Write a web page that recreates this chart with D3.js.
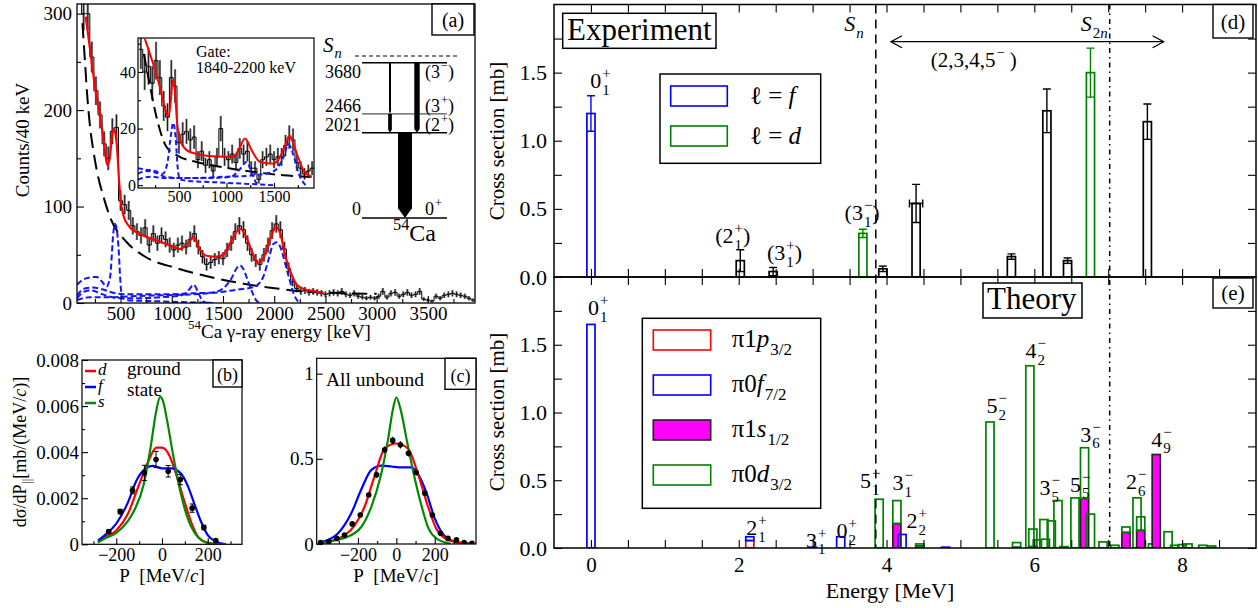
<!DOCTYPE html>
<html><head><meta charset="utf-8">
<script src="https://cdn.jsdelivr.net/npm/d3@7"></script>
<style>
body{margin:0;background:#fff;}
svg{display:block;}
text{font-family:'Liberation Serif','Times New Roman',serif;}
</style></head><body>
<svg id="chart" width="1258" height="608"></svg>
<script>
// ---------------- DATA ----------------
// (a) 54Ca gamma spectrum, 40 keV bins starting at 80 keV
const histStart = 80, histWidth = 40;
const histCounts = [330,300,300,255,220,195,165,150,178,182,106,102,96,80,74,70,78,60,72,62,70,66,60,55,60,62,58,66,72,58,48,40,42,45,47,46,55,62,74,80,76,62,50,44,40,50,60,75,82,76,56,36,22,15,12,13,11,12,11,10,9,10,11,10,12,9,8,10,7,6,5,6,5,7,12,6,10,11,7,9,11,8,9,12,4,3,2,7,5,8,9,10,9,8,7,5,3];
const fitTotal = [[160,297],[200,265],[250,225],[300,194],[340,165],[370,143],[395,150],[415,172],[432,180],[450,176],[470,155],[485,128],[500,108],[530,90],[580,80],[700,71],[850,65],[1000,59],[1080,56],[1150,61],[1215,68],[1270,56],[1340,49],[1440,48],[1500,50],[1560,60],[1620,72],[1670,77],[1720,70],[1780,54],[1845,41],[1900,48],[1960,66],[2015,79],[2060,72],[2110,48],[2160,32],[2220,19],[2300,14],[2400,12],[2480,10.5]];
const fitBackground = [[128,290],[150,255],[175,215],[203,182],[235,158],[269,137],[334,110],[398,89],[561,63],[725,49],[1050,36],[1375,27],[1700,20],[2026,15],[2352,11.5],[3000,9.5]];
const comp445 = [[75,19],[130,24],[200,26.5],[266,27],[320,22],[363,17],[398,27],[432,75],[447,82],[480,58],[496,27],[513,6],[560,3],[800,2],[1100,1],[1400,0]];
const comp1214 = [[75,5],[150,12],[220,13],[300,10],[380,7],[500,5],[700,5],[900,6],[1100,8],[1170,14],[1214,19],[1250,13],[1290,4],[1330,0.5],[1400,0]];
const comp1659 = [[75,8],[150,15],[230,16],[330,14],[450,10],[600,9],[900,9],[1200,10],[1400,11],[1500,15],[1580,25],[1640,37],[1668,39],[1700,35],[1740,24],[1790,10],[1830,2],[1870,0]];
const comp2021 = [[75,3],[200,6],[400,6],[600,7],[900,8],[1200,9],[1450,11],[1650,14],[1780,16],[1850,20],[1893,27],[1950,47],[1990,61],[2026,63],[2060,58],[2107,41],[2150,24],[2189,10],[2230,2],[2260,0]];
// inset (gate 1840-2200 keV)
const insetCounts = [48,40,42,36,44,38,28,24,38,35,15,18,19,16,17,9,12,7,9,5,10,20,10,9,11,8,13,11,12,6,6,2,9,10,11,9,10,10,14,17,16,8,6,4,5,6];
const insetFit = [[142,51.7],[229,42.9],[300,34.7],[370,25.3],[390,24],[415,30],[434,37],[458,33.5],[482,21.8],[528,14.7],[616,11.7],[862,10.2],[1072,10],[1125,12.3],[1195,16.5],[1265,12.3],[1353,8.2],[1493,7.6],[1581,11.2],[1630,15.3],[1665,17.5],[1700,15],[1739,11.2],[1809,5.3],[1897,2.9]];
const insetBackground = [[132,46.4],[195,35.3],[265,24],[370,13.5],[510,10],[686,8.2],[932,6.5],[1282,4.7],[1598,3.5],[1897,2.9]];
const insetComp445 = [[70,6],[150,5.5],[250,5],[330,4],[380,8],[410,16],[440,22],[465,17],[485,7],[510,2],[600,1.5],[900,1],[1200,0.5],[1500,0]];
const insetComp1214 = [[70,4],[150,5],[250,4.5],[350,3],[500,2.5],[800,2.5],[1050,3],[1150,6],[1210,8.2],[1260,5],[1310,1],[1350,0]];
const insetComp1659 = [[70,2],[200,3],[350,2.5],[600,2.5],[1000,3],[1300,3.5],[1500,5],[1600,10],[1650,14.5],[1700,11],[1760,4],[1830,0]];
// level scheme (keV)
const levelEnergy = [3680, 2466, 2021, 0];
const levelLabel = ["3680", "2466", "2021", "0"];
const levelJpi = [["(3","−",")"], ["(3","+",")"], ["(2","+",")"], ["0","+",""]];
const sepEnergyN = 3840;
const transFrom = [3680, 2466, 3680, 2021];
const transTo = [2466, 2021, 2021, 0];
const transIntensity = [1, 2, 3, 8];
// (b) ground state momentum distribution
const bP = [-233,-183,-129,-77,-26,27,80,132,183,235];
const bV = [0.00055,0.00142,0.00234,0.0031,0.00368,0.00317,0.00281,0.00157,0.00073,0.00016];
const bErr = [0.00007,0.0001,0.00015,0.00033,0.00035,0.00025,0.00022,0.00018,0.0001,0.00006];
const bCurveD = [[-280,0.00008],[-250,0.0003],[-200,0.0006],[-150,0.0013],[-100,0.0026],[-60,0.0036],[-25,0.0042],[0,0.0042],[30,0.0039],[60,0.0031],[100,0.0018],[130,0.0009],[160,0.0003],[200,0.00006],[250,0],[280,0]];
const bCurveF = [[-280,0.00016],[-250,0.0004],[-200,0.0009],[-150,0.0018],[-110,0.0028],[-70,0.0033],[-40,0.0034],[0,0.0033],[40,0.0033],[80,0.0031],[110,0.0026],[140,0.0018],[170,0.0010],[200,0.0004],[240,0.0001],[280,0]];
const bCurveS = [[-280,0.00008],[-250,0.00025],[-200,0.0005],[-150,0.001],[-120,0.0015],[-80,0.0026],[-50,0.0042],[-25,0.0058],[-8,0.0064],[5,0.0062],[20,0.0055],[50,0.0038],[80,0.0023],[110,0.0012],[150,0.0004],[190,0.0001],[250,0],[280,0]];
// (c) all unbound
const cP = [-395,-352,-310,-270,-230,-188,-144,-103,-61,-19,21,63,104,148,188,230,269,313,353,394];
const cV = [0.008,0.014,0.033,0.053,0.118,0.17,0.288,0.406,0.553,0.608,0.582,0.533,0.42,0.298,0.17,0.063,0.033,0.024,0.008,0.004];
const cErr = [0.005,0.006,0.008,0.01,0.012,0.014,0.016,0.018,0.02,0.022,0.022,0.02,0.018,0.016,0.014,0.012,0.008,0.006,0.005,0.004];
const cCurveD = [[-395,0.005],[-330,0.02],[-270,0.05],[-217,0.11],[-165,0.22],[-113,0.40],[-61,0.56],[0,0.59],[61,0.56],[113,0.41],[165,0.22],[208,0.09],[252,0.035],[321,0.01],[395,0.003]];
const cCurveF = [[-395,0.01],[-306,0.06],[-235,0.18],[-183,0.32],[-130,0.435],[-78,0.46],[-26,0.455],[26,0.45],[78,0.45],[113,0.41],[157,0.30],[200,0.15],[235,0.07],[287,0.02],[339,0.005],[395,0.002]];
const cCurveS = [[-395,0.004],[-330,0.02],[-270,0.035],[-183,0.10],[-130,0.22],[-78,0.415],[-44,0.61],[-18,0.79],[0,0.86],[22,0.79],[56,0.60],[91,0.41],[125,0.25],[168,0.09],[212,0.03],[282,0.002]];
// (d) experiment
const expE = [0, 2.021, 2.466, 3.68, 3.95, 4.40, 5.69, 6.17, 6.45, 6.76, 7.53];
const expV = [1.20, 0.12, 0.04, 0.32, 0.06, 0.54, 0.15, 1.22, 0.12, 1.50, 1.14];
const expErr = [0.13, 0.08, 0.03, 0.03, 0.02, 0.14, 0.02, 0.16, 0.02, 0.18, 0.13];
const expEErr = [0, 0, 0, 0, 0, 0.09, 0, 0, 0, 0, 0];
const expL = ["f", "", "", "d", "", "", "", "", "", "d", ""];
const expLabels = [
  {E:0.13, v:1.385, parts:["0",{sub:"1",sup:"+"}]},
  {E:1.92, v:0.247, parts:["(2",{sub:"1",sup:"+"},")"]},
  {E:2.62, v:0.125, parts:["(3",{sub:"1",sup:"+"},")"]},
  {E:3.67, v:0.418, parts:["(3",{sub:"1",sup:"−"},")"]}
];
const Sn = 3.855, S2n = 7.02;
const multipletRange = [4.06, 7.75], multipletV = 1.727;
// (e) theory: energies (MeV) and partial cross sections (mb)
const thE = [0.00,2.15,3.00,3.38,3.90,4.14,4.21,4.45,4.80,5.40,5.76,5.94,5.98,6.04,6.13,6.15,6.23,6.32,6.40,6.55,6.68,6.76,6.93,7.09,7.24,7.39,7.44,7.60,7.65,7.81,7.90,8.00,8.08,8.28,8.40];
const thP3 = [0,0.055,0,0,0,0,0,0,0,0,0,0,0,0,0,0,0,0,0,0,0,0,0,0,0,0,0,0,0,0,0,0,0,0,0];
const thF7 = [1.65,0.028,0.006,0.083,0,0,0.10,0.015,0.006,0,0.005,0,0,0,0,0,0,0,0,0,0,0,0,0,0,0,0,0,0,0,0,0,0,0,0];
const thS1 = [0,0,0,0,0,0.18,0,0,0,0,0,0,0.01,0,0,0,0,0,0,0,0.365,0,0,0,0.115,0,0.13,0,0.69,0,0,0,0,0,0];
const thD3 = [0,0,0,0,0.36,0.17,0,0.015,0,0.93,0.035,1.345,0.13,0.06,0.21,0.065,0.20,0.35,0.01,0.37,0.375,0.25,0.045,0.02,0.04,0.37,0.10,0.03,0,0.12,0.02,0.025,0.03,0.02,0.015];
const thLabels = [
  {E:0.10, v:1.72, parts:["0",{sub:"1",sup:"+"}]},
  {E:2.24, v:0.096, parts:["2",{sub:"1",sup:"+"}]},
  {E:3.05, v:0.002, parts:["3",{sub:"1",sup:"+"}]},
  {E:3.46, v:0.072, parts:["0",{sub:"2",sup:"+"}]},
  {E:3.78, v:0.44, parts:["5",{sub:"1",sup:"−"}]},
  {E:4.22, v:0.428, parts:["3",{sub:"1",sup:"−"}]},
  {E:4.41, v:0.145, parts:["2",{sub:"2",sup:"+"}]},
  {E:5.49, v:0.994, parts:["5",{sub:"2",sup:"−"}]},
  {E:6.02, v:1.40, parts:["4",{sub:"2",sup:"−"}]},
  {E:6.21, v:0.39, parts:["3",{sub:"5",sup:"−"}]},
  {E:6.62, v:0.415, parts:["5",{sub:"5",sup:"−"}]},
  {E:6.76, v:0.785, parts:["3",{sub:"6",sup:"−"}]},
  {E:7.38, v:0.433, parts:["2",{sub:"6",sup:"−"}]},
  {E:7.72, v:0.748, parts:["4",{sub:"9",sup:"−"}]}
];

// ---------------- HELPERS ----------------
const svg = d3.select('#chart');
svg.append('rect').attr('width',1258).attr('height',608).attr('fill','#fff');
const defs = svg.append('defs');
function clip(id,x,y,w,h){ defs.append('clipPath').attr('id',id).append('rect').attr('x',x).attr('y',y).attr('width',w).attr('height',h); return `url(#${id})`; }
function piece(g,x,y,content,fs,it){
  const t = g.append('text').attr('x',x).attr('y',y).style('font-size',fs+'px');
  const arr = Array.isArray(content) ? content : [{t:content,it:it}];
  arr.forEach(c=>{ const ts=t.append('tspan').text(c.t); if(c.it) ts.style('font-style','italic'); });
  return t.node().getComputedTextLength();
}
function rich(parent,x,y,parts,fs,anchor='start',color='#000',rot=0){
  const g = parent.append('g').attr('fill',color);
  let cx=0; const s=fs*0.68;
  parts.forEach(p=>{
    if(typeof p==='string') p={t:p};
    if(p.t!==undefined) cx+=piece(g,cx,0,p.t,fs,p.it);
    else {
      let w=0;
      if(p.sub!==undefined) w=Math.max(w,piece(g,cx+1,fs*0.3,p.sub,s,p.subIt));
      if(p.sup!==undefined) w=Math.max(w,piece(g,cx+1,-fs*0.45,p.sup,s));
      cx+=w+1+(p.gap||0);
    }
  });
  const off = anchor==='middle' ? -cx/2 : anchor==='end' ? -cx : 0;
  g.attr('transform', rot ? `translate(${x},${y}) rotate(${rot}) translate(${off},0)` : `translate(${x+off},${y})`);
  return g;
}
function styleAxis(sel,fs){
  sel.select('.domain').remove();
  sel.selectAll('line').attr('stroke','#000').attr('stroke-width',1.1);
  sel.selectAll('text').style('font-size',fs+'px').attr('fill','#000');
  return sel;
}
function frame(x0,y0,x1,y1,w=1.3){
  svg.append('rect').attr('x',x0).attr('y',y0).attr('width',x1-x0).attr('height',y1-y0).attr('fill','none').attr('stroke','#000').attr('stroke-width',w);
}
function boxLabel(x0,y0,x1,y1,txt,fs,base){
  svg.append('rect').attr('x',x0).attr('y',y0).attr('width',x1-x0).attr('height',y1-y0).attr('fill','#fff').attr('stroke','#000').attr('stroke-width',1.4);
  svg.append('text').attr('x',(x0+x1)/2).attr('y',base).attr('text-anchor','middle').style('font-size',fs+'px').text(txt);
}
const curve = (xs,ys)=>d3.line().x(d=>xs(d[0])).y(d=>ys(d[1])).curve(d3.curveMonotoneX);
const intFmt = d3.format('d');

function drawHist(g,xs,ys,counts,start,w,capW){
  const pts = counts.map((c,i)=>[start+i*w,c]);
  pts.push([start+counts.length*w, counts[counts.length-1]]);
  counts.forEach((c,i)=>{
    const e=Math.sqrt(c), xc=xs(start+(i+0.5)*w);
    g.append('rect').attr('x',xc-capW/2).attr('y',ys(c+e)).attr('width',capW).attr('height',Math.max(0,ys(Math.max(c-e,0))-ys(c+e))).attr('fill','#8a8a8a');
    g.append('line').attr('x1',xc).attr('x2',xc).attr('y1',ys(c+e)).attr('y2',ys(Math.max(c-e,0))).attr('stroke','#000').attr('stroke-width',0.8);
  });
  g.append('path').attr('d',d3.line().x(d=>xs(d[0])).y(d=>ys(d[1])).curve(d3.curveStepAfter)(pts)).attr('fill','none').attr('stroke','#000').attr('stroke-width',1);
}

// ---------------- PANEL (a) ----------------
const aX = d3.scaleLinear().domain([75,3960]).range([77,475]);
const aY = d3.scaleLinear().domain([0,310]).range([303,4]);
const gA = svg.append('g').attr('clip-path',clip('clipA',77,4,398,299));
drawHist(gA,aX,aY,histCounts,histStart,histWidth,2.4);
gA.append('path').attr('d',curve(aX,aY)(fitBackground)).attr('fill','none').attr('stroke','#000').attr('stroke-width',2).attr('stroke-dasharray','15,7');
[comp445,comp1214,comp1659,comp2021].forEach(cmp=>{
  gA.append('path').attr('d',curve(aX,aY)(cmp)).attr('fill','none').attr('stroke','#1515ff').attr('stroke-width',2).attr('stroke-dasharray','6,3');
});
gA.append('path').attr('d',curve(aX,aY)(fitTotal)).attr('fill','none').attr('stroke','#ff0000').attr('stroke-width',2.2);
frame(77,4,475,303);
styleAxis(svg.append('g').attr('transform','translate(0,303)').call(d3.axisBottom(aX).tickValues([500,1000,1500,2000,2500,3000,3500]).tickFormat(intFmt).tickSize(-7).tickPadding(3).tickSizeOuter(0)),19);
styleAxis(svg.append('g').attr('transform','translate(0,303)').call(d3.axisBottom(aX).tickValues([250,750,1250,1750,2250,2750,3250,3750]).tickSize(-4).tickFormat('')),19);
styleAxis(svg.append('g').attr('transform','translate(77,0)').call(d3.axisLeft(aY).tickValues([0,100,200,300]).tickFormat(intFmt).tickSize(-7).tickPadding(5)),19);
styleAxis(svg.append('g').attr('transform','translate(77,0)').call(d3.axisLeft(aY).tickValues([50,150,250]).tickSize(-4).tickFormat('')),19);
rich(svg,29,140,["Counts/40 keV"],19,'middle','#000',-90);
rich(svg,279,338,[{sup:"54"},"Ca γ-ray energy [keV]"],19,'middle');
boxLabel(432,4,474,35,"(a)",20,27);

// inset
const iX = d3.scaleLinear().domain([70,1920]).range([138,314]);
const iY = d3.scaleLinear().domain([-1,52]).range([188,38]);
svg.append('rect').attr('x',138).attr('y',38).attr('width',176).attr('height',150).attr('fill','#fff');
const gI = svg.append('g').attr('clip-path',clip('clipI',138,38,176,150));
drawHist(gI,iX,iY,insetCounts,histStart,histWidth,2.2);
gI.append('path').attr('d',curve(iX,iY)(insetBackground)).attr('fill','none').attr('stroke','#000').attr('stroke-width',2).attr('stroke-dasharray','12,6');
[insetComp445,insetComp1214,insetComp1659].forEach(cmp=>{
  gI.append('path').attr('d',curve(iX,iY)(cmp)).attr('fill','none').attr('stroke','#1515ff').attr('stroke-width',2).attr('stroke-dasharray','5,3');
});
gI.append('path').attr('d',curve(iX,iY)(insetFit)).attr('fill','none').attr('stroke','#ff0000').attr('stroke-width',2);
frame(138,38,314,188,1.2);
styleAxis(svg.append('g').attr('transform','translate(0,188)').call(d3.axisBottom(iX).tickValues([500,1000,1500]).tickFormat(intFmt).tickSize(-5).tickPadding(3)),16);
styleAxis(svg.append('g').attr('transform','translate(0,188)').call(d3.axisBottom(iX).tickValues([250,750,1250,1750]).tickSize(-3).tickFormat('')),16);
styleAxis(svg.append('g').attr('transform','translate(138,0)').call(d3.axisLeft(iY).tickValues([0,20,40]).tickFormat(intFmt).tickSize(-5).tickPadding(2)),16);
styleAxis(svg.append('g').attr('transform','translate(138,0)').call(d3.axisLeft(iY).tickValues([10,30,50]).tickSize(-3).tickFormat('')),16);
rich(svg,196,57,["Gate:"],16);
rich(svg,196,73,["1840-2200 keV"],16);

// level scheme
const lY = d3.scaleLinear().domain([0,sepEnergyN]).range([218,56]);
const lW = d3.scaleLinear().domain([1,8]).range([2,14]);
svg.append('line').attr('x1',355).attr('x2',460).attr('y1',lY(sepEnergyN)).attr('y2',lY(sepEnergyN)).attr('stroke','#000').attr('stroke-width',1).attr('stroke-dasharray','4,3');
rich(svg,323,52,[{t:"S",it:true},{sub:"n",subIt:true}],21);
const lvlLabelDy = [15,-2,-2,-3];
levelEnergy.forEach((e,i)=>{
  svg.append('line').attr('x1',362).attr('x2',447).attr('y1',lY(e)).attr('y2',lY(e)).attr('stroke', i===1?'#555':'#000').attr('stroke-width',1.3);
  rich(svg,361,lY(e)+lvlLabelDy[i],[levelLabel[i]],18,'end');
  rich(svg,425,lY(e)+lvlLabelDy[i],[levelJpi[i][0],{sup:levelJpi[i][1]},levelJpi[i][2]],18);
});
const transX = [390,390,417,405];
transFrom.forEach((f,i)=>{
  const w=lW(transIntensity[i]), x=transX[i], y1=lY(f), y2=lY(transTo[i]);
  const tip=Math.min(Math.max(w*0.7,3),(y2-y1)*0.4);
  svg.append('path').attr('d',`M${x-w/2},${y1}L${x+w/2},${y1}L${x+w/2},${y2-tip}L${x},${y2}L${x-w/2},${y2-tip}Z`).attr('fill','#000');
});
rich(svg,392,241,[{sup:"54"},"Ca"],24,'start');

// ---------------- PANEL (b) ----------------
const bX = d3.scaleLinear().domain([-350,350]).range([82,242]);
const bY = d3.scaleLinear().domain([0,0.008]).range([544.3,360]);
const gB = svg.append('g').attr('clip-path',clip('clipB',82,360,160,184.3));
[[bCurveD,'#ff0000'],[bCurveF,'#0000ff'],[bCurveS,'#008a00']].forEach(([c,col])=>{
  gB.append('path').attr('d',curve(bX,bY)(c)).attr('fill','none').attr('stroke',col).attr('stroke-width',2.2);
});
bP.forEach((p,i)=>{
  gB.append('line').attr('x1',bX(p)).attr('x2',bX(p)).attr('y1',bY(bV[i]-bErr[i])).attr('y2',bY(bV[i]+bErr[i])).attr('stroke','#000').attr('stroke-width',1);
  [bV[i]-bErr[i],bV[i]+bErr[i]].forEach(v=>gB.append('line').attr('x1',bX(p)-2.5).attr('x2',bX(p)+2.5).attr('y1',bY(v)).attr('y2',bY(v)).attr('stroke','#000'));
  gB.append('circle').attr('cx',bX(p)).attr('cy',bY(bV[i])).attr('r',2.8).attr('fill','#000');
});
frame(82,360,242,544.3,1.2);
styleAxis(svg.append('g').attr('transform','translate(0,544.3)').call(d3.axisBottom(bX).tickValues([-200,0,200]).tickSize(-6).tickPadding(4)),18);
styleAxis(svg.append('g').attr('transform','translate(0,544.3)').call(d3.axisBottom(bX).tickValues([-300,-100,100,300]).tickSize(-3).tickFormat('')),18);
styleAxis(svg.append('g').attr('transform','translate(82,0)').call(d3.axisLeft(bY).tickValues([0,0.002,0.004,0.006,0.008]).tickFormat(d=>d===0?'0':d3.format('.3f')(d)).tickSize(-6).tickPadding(3)),19);
styleAxis(svg.append('g').attr('transform','translate(82,0)').call(d3.axisLeft(bY).tickValues([0.001,0.003,0.005,0.007]).tickSize(-3).tickFormat('')),19);
rich(svg,26,452,["dσ/dP",{sub:"||"}," [mb/(MeV/",{t:"c",it:true},")]"],18,'middle','#000',-90);
rich(svg,162,582,["P\u00a0\u00a0[MeV/",{t:"c",it:true},"]"],19,'middle');
// legend (b)
const bLeg = [['d','#ff0000'],['f','#0000ff'],['s','#008a00']];
bLeg.forEach(([t,col],i)=>{
  const y=[371,387,403][i];
  svg.append('line').attr('x1',85).attr('x2',96).attr('y1',y).attr('y2',y).attr('stroke',col).attr('stroke-width',2.5);
  rich(svg,98,y+4,[{t:t,it:true}],17);
});
rich(svg,127,375,["ground"],19);
rich(svg,127,396,["state"],19);
boxLabel(213,360,242,387,"(b)",18,381);

// ---------------- PANEL (c) ----------------
const cX = d3.scaleLinear().domain([-415,415]).range([316.7,476]);
const cY = d3.scaleLinear().domain([0,1.09]).range([544,358.3]);
const gC = svg.append('g').attr('clip-path',clip('clipC',316.7,358.3,159.3,185.7));
[[cCurveF,'#0000ff'],[cCurveD,'#ff0000'],[cCurveS,'#008a00']].forEach(([c,col])=>{
  gC.append('path').attr('d',curve(cX,cY)(c)).attr('fill','none').attr('stroke',col).attr('stroke-width',2.2);
});
cP.forEach((p,i)=>{
  gC.append('line').attr('x1',cX(p)).attr('x2',cX(p)).attr('y1',cY(cV[i]-cErr[i])).attr('y2',cY(cV[i]+cErr[i])).attr('stroke','#000').attr('stroke-width',1);
  gC.append('circle').attr('cx',cX(p)).attr('cy',cY(cV[i])).attr('r',2.8).attr('fill','#000');
});
frame(316.7,358.3,476,544,1.2);
styleAxis(svg.append('g').attr('transform','translate(0,544)').call(d3.axisBottom(cX).tickValues([-200,0,200]).tickSize(-6).tickPadding(4)),18);
styleAxis(svg.append('g').attr('transform','translate(0,544)').call(d3.axisBottom(cX).tickValues([-300,-100,100,300]).tickSize(-3).tickFormat('')),18);
styleAxis(svg.append('g').attr('transform','translate(316.7,0)').call(d3.axisLeft(cY).tickValues([0,0.5,1]).tickFormat(d=>d===0?'0':d===1?'1':'0.5').tickSize(-6).tickPadding(3)),19);
rich(svg,396,582,["P\u00a0\u00a0[MeV/",{t:"c",it:true},"]"],19,'middle');
rich(svg,326,386,["All unbound"],19.5);
boxLabel(445,358.3,476,389.3,"(c)",18,381.5);

// ---------------- PANELS (d) & (e) ----------------
const xE = d3.scaleLinear().domain([-0.5,9]).range([554,1256]);
const yD = d3.scaleLinear().domain([0,2]).range([277,4.5]);
const yT = d3.scaleLinear().domain([0,2]).range([548,277]);
const barW = 0.11;
const colOf = {f:'#0000ff', d:'#008000', '':'#000'};
const gD = svg.append('g').attr('clip-path',clip('clipD',554,4.5,702,272.5));
expE.forEach((e,i)=>{
  const col=colOf[expL[i]], x0=xE(e-barW/2), x1=xE(e+barW/2), xc=xE(e);
  gD.append('rect').attr('x',x0).attr('y',yD(expV[i])).attr('width',x1-x0).attr('height',yD(0)-yD(expV[i])).attr('fill','none').attr('stroke',col).attr('stroke-width',1.7);
  const lo=Math.max(expV[i]-expErr[i],0), hi=expV[i]+expErr[i];
  gD.append('line').attr('x1',xc).attr('x2',xc).attr('y1',yD(lo)).attr('y2',yD(hi)).attr('stroke',col).attr('stroke-width',1.4);
  [lo,hi].forEach(v=>gD.append('line').attr('x1',xc-4).attr('x2',xc+4).attr('y1',yD(v)).attr('y2',yD(v)).attr('stroke',col).attr('stroke-width',1.4));
  if(expEErr[i]>0){
    gD.append('line').attr('x1',xE(e-expEErr[i])).attr('x2',xE(e+expEErr[i])).attr('y1',yD(expV[i])).attr('y2',yD(expV[i])).attr('stroke',col).attr('stroke-width',1.4);
    [e-expEErr[i],e+expEErr[i]].forEach(v=>gD.append('line').attr('x1',xE(v)).attr('x2',xE(v)).attr('y1',yD(expV[i])-4).attr('y2',yD(expV[i])+4).attr('stroke',col).attr('stroke-width',1.4));
  }
});
// theory bars (stacked p, f, s, d)
const gE = svg.append('g').attr('clip-path',clip('clipE',554,277,702,271));
const comps = [[thP3,'#ff0000','none'],[thF7,'#0000ff','none'],[thS1,'#222','#ff00ff'],[thD3,'#008000','none']];
thE.forEach((e,i)=>{
  let base=0;
  comps.forEach(([arr,stroke,fill])=>{
    const v=arr[i]; if(v<=0) return;
    const x0=xE(e-barW/2), x1=xE(e+barW/2);
    gE.append('rect').attr('x',x0).attr('y',yT(base+v)).attr('width',x1-x0).attr('height',yT(base)-yT(base+v)).attr('fill',fill).attr('stroke',stroke).attr('stroke-width',1.7);
    base+=v;
  });
});
// separation energies
svg.append('line').attr('x1',xE(Sn)).attr('x2',xE(Sn)).attr('y1',4.5).attr('y2',548).attr('stroke','#000').attr('stroke-width',1.5).attr('stroke-dasharray','9,6');
svg.append('line').attr('x1',xE(S2n)).attr('x2',xE(S2n)).attr('y1',4.5).attr('y2',548).attr('stroke','#000').attr('stroke-width',1.5).attr('stroke-dasharray','5,4,1.5,4');
rich(svg,xE(Sn)-12,31,[{t:"S",it:true},{sub:"n",subIt:true}],22,'end');
rich(svg,xE(S2n)-2,31,[{t:"S",it:true},{sub:[{t:"2"},{t:"n",it:true}]}],22,'end');
// multiplet arrow
{
  const x1=xE(multipletRange[0]), x2=xE(multipletRange[1]), y=yD(multipletV);
  svg.append('line').attr('x1',x1).attr('x2',x2).attr('y1',y).attr('y2',y).attr('stroke','#000').attr('stroke-width',1.3);
  svg.append('path').attr('d',`M${x1+11},${y-6}L${x1},${y}L${x1+11},${y+6}M${x2-11},${y-6}L${x2},${y}L${x2-11},${y+6}`).attr('fill','none').attr('stroke','#000').attr('stroke-width',1.3);
  rich(svg,xE(5.18),yD(1.543),["(2,3,4,5",{sup:"−"},"\u00a0)"],21,'middle');
}
expLabels.forEach(l=>rich(svg,xE(l.E),yD(l.v),l.parts,22,'middle'));
thLabels.forEach(l=>rich(svg,xE(l.E),yT(l.v),l.parts,22,'middle'));
// frames and axes
frame(554,4.5,1256,277,1.5);
frame(554,277,1256,548,1.5);
const halfTicks = d3.range(0,9,0.5);
const yTicks = d3.range(0,2,0.25);
const yFmt = d=> (Math.abs(d*2-Math.round(d*2))<1e-6) ? d3.format('.1f')(d) : '';
[[yD,4.5,277],[yT,277,548]].forEach(([ys,top,bot],k)=>{
  styleAxis(svg.append('g').attr('transform','translate(554,0)').call(d3.axisLeft(ys).tickValues(yTicks).tickFormat(yFmt).tickSize(-8).tickPadding(7)),22);
  styleAxis(svg.append('g').attr('transform','translate(1256,0)').call(d3.axisRight(ys).tickValues(yTicks).tickFormat('').tickSize(-8)),22);
  styleAxis(svg.append('g').attr('transform',`translate(0,${top})`).call(d3.axisTop(xE).tickValues(halfTicks).tickFormat('').tickSize(-8)),22);
  styleAxis(svg.append('g').attr('transform',`translate(0,${bot})`).call(d3.axisBottom(xE).tickValues(halfTicks).tickFormat(k===1?(d=>d%2===0?String(d):''):'').tickSize(-8).tickPadding(9)),21);
});
rich(svg,504,141,["Cross section [mb]"],21,'middle','#000',-90);
rich(svg,504,412,["Cross section [mb]"],21,'middle','#000',-90);
rich(svg,890,598,["Energy [MeV]"],22,'middle');
// boxes
svg.append('rect').attr('x',562.7).attr('y',13.3).attr('width',153.3).attr('height',35).attr('fill','#fff').attr('stroke','#000').attr('stroke-width',1.5);
rich(svg,567,40,["Experiment"],31);
svg.append('rect').attr('x',983).attr('y',283).attr('width',99).attr('height',35).attr('fill','#fff').attr('stroke','#000').attr('stroke-width',1.5);
rich(svg,987,309,["Theory"],31);
boxLabel(1213,4.5,1253,38,"(d)",21,29);
boxLabel(1213,278,1253,308,"(e)",21,300);
// legend (d)
svg.append('rect').attr('x',660).attr('y',74).attr('width',160.7).attr('height',89.3).attr('fill','#fff').attr('stroke','#000').attr('stroke-width',1.5);
[['f','#0000ff',86],['d','#008000',126]].forEach(([l,col,y])=>{
  svg.append('rect').attr('x',670.7).attr('y',y).attr('width',56.6).attr('height',20).attr('fill','none').attr('stroke',col).attr('stroke-width',1.6);
  rich(svg,750,y+18,["ℓ\u00a0=\u00a0",{t:l,it:true}],25);
});
// legend (e)
svg.append('rect').attr('x',642.3).attr('y',318.3).attr('width',178.4).attr('height',190).attr('fill','#fff').attr('stroke','#000').attr('stroke-width',1.5);
const legE = [['p','3/2','#ff0000','#fff'],['f','7/2','#0000ff','#fff'],['s','1/2','#222','#ff00ff'],['d','3/2','#008000','#fff']];
legE.forEach(([o,j,stroke,fill],i)=>{
  const y=330+45*i;
  svg.append('rect').attr('x',653.3).attr('y',y).attr('width',57.4).attr('height',20).attr('fill',fill).attr('stroke',stroke).attr('stroke-width',1.6);
  const n = (o==='p'||o==='s') ? '1' : '0';
  rich(svg,731.7,y+17,["π"+n,{t:o,it:true},{sub:j}],25);
});
</script>
</body></html>
